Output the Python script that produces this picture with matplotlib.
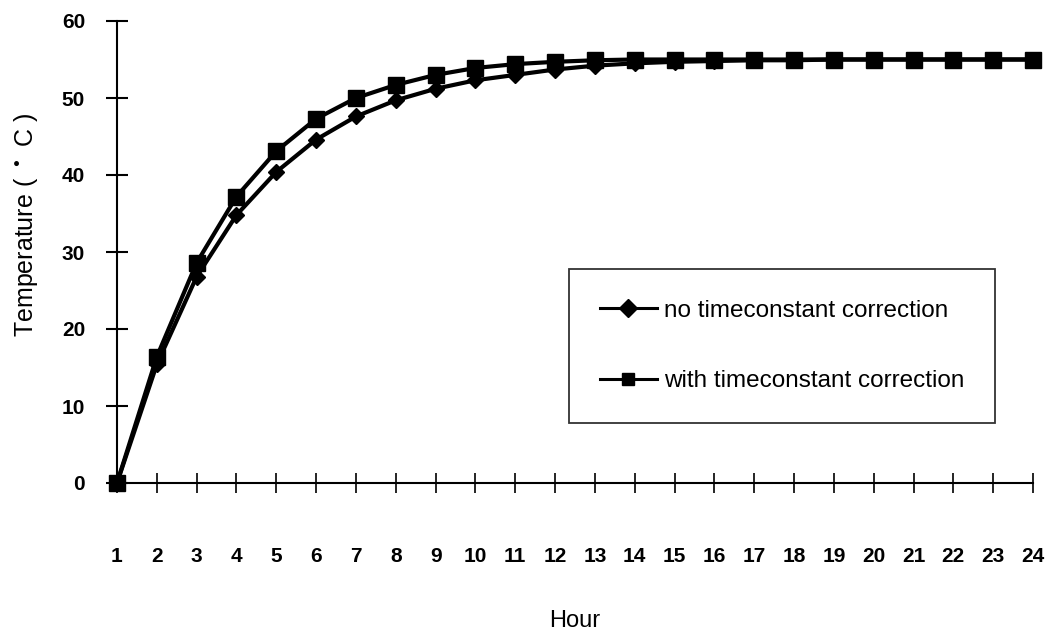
import matplotlib.pyplot as plt

# hours (category axis)
hours = ['1', '2', '3', '4', '5', '6', '7', '8', '9', '10', '11', '12',
         '13', '14', '15', '16', '17', '18', '19', '20', '21', '22', '23', '24']

# temperatures
no_corr = [0, 15.4, 26.8, 34.8, 40.4, 44.6, 47.6, 49.7, 51.2, 52.3, 53.0, 53.7,
           54.2, 54.5, 54.7, 54.8, 54.9, 54.9, 55.0, 55.0, 55.0, 55.0, 55.0, 55.0]
with_corr = [0, 16.4, 28.6, 37.2, 43.1, 47.3, 50.0, 51.7, 53.0, 53.9, 54.4, 54.7,
             54.9, 55.0, 55.0, 55.0, 55.0, 55.0, 55.0, 55.0, 55.0, 55.0, 55.0, 55.0]

yticks = [0, 10, 20, 30, 40, 50, 60]

plt.rcParams['font.family'] = ['Liberation Sans', 'DejaVu Sans']

fig = plt.figure(figsize=(10.58, 6.35), dpi=100)
ax = fig.add_axes([117 / 1058, 1 - 483 / 635, 916 / 1058, 462 / 635])

xs = list(range(1, len(hours) + 1))
ax.plot(xs, no_corr, color='black', lw=3, marker='D', markersize=8.5,
        label='no timeconstant correction', clip_on=False, zorder=3)
ax.plot(xs, with_corr, color='black', lw=3, marker='s', markersize=12,
        label='with timeconstant correction', clip_on=False, zorder=3)

ax.set_xlim(1, 24)
ax.set_ylim(0, 60)
ax.set_xticks(xs)
ax.set_xticklabels(hours)
ax.set_yticks(yticks)

for s in ['top', 'right']:
    ax.spines[s].set_visible(False)
for s in ['left', 'bottom']:
    ax.spines[s].set_linewidth(1.5)
    ax.spines[s].set_zorder(0)

ax.tick_params(axis='y', direction='inout', length=16, width=1.5, pad=15,
               labelsize=15)
ax.tick_params(axis='x', direction='inout', length=14, width=1.2, pad=39,
               labelsize=15)
for lab in ax.get_xticklabels() + ax.get_yticklabels():
    lab.set_fontweight('bold')

ax.set_ylabel('Temperature ( $^\\bullet$ C )', fontsize=18)
ax.yaxis.set_label_coords(-0.084, 0.56)
ax.set_xlabel('Hour', fontsize=17)
ax.xaxis.set_label_coords(0.5, -0.275)

leg = ax.legend(loc='center', bbox_to_anchor=(782 / 1058, 1 - 346 / 635),
                bbox_transform=fig.transFigure, fontsize=17.5, frameon=True,
                fancybox=False, edgecolor='black', borderpad=1.25,
                labelspacing=2.0, handlelength=2.35, handletextpad=0.3)
leg.get_frame().set_linewidth(1.3)
for h in leg.legend_handles:
    h.set_linewidth(2.2)
    h.set_markersize(9)

fig.savefig('out.png', dpi=100)
